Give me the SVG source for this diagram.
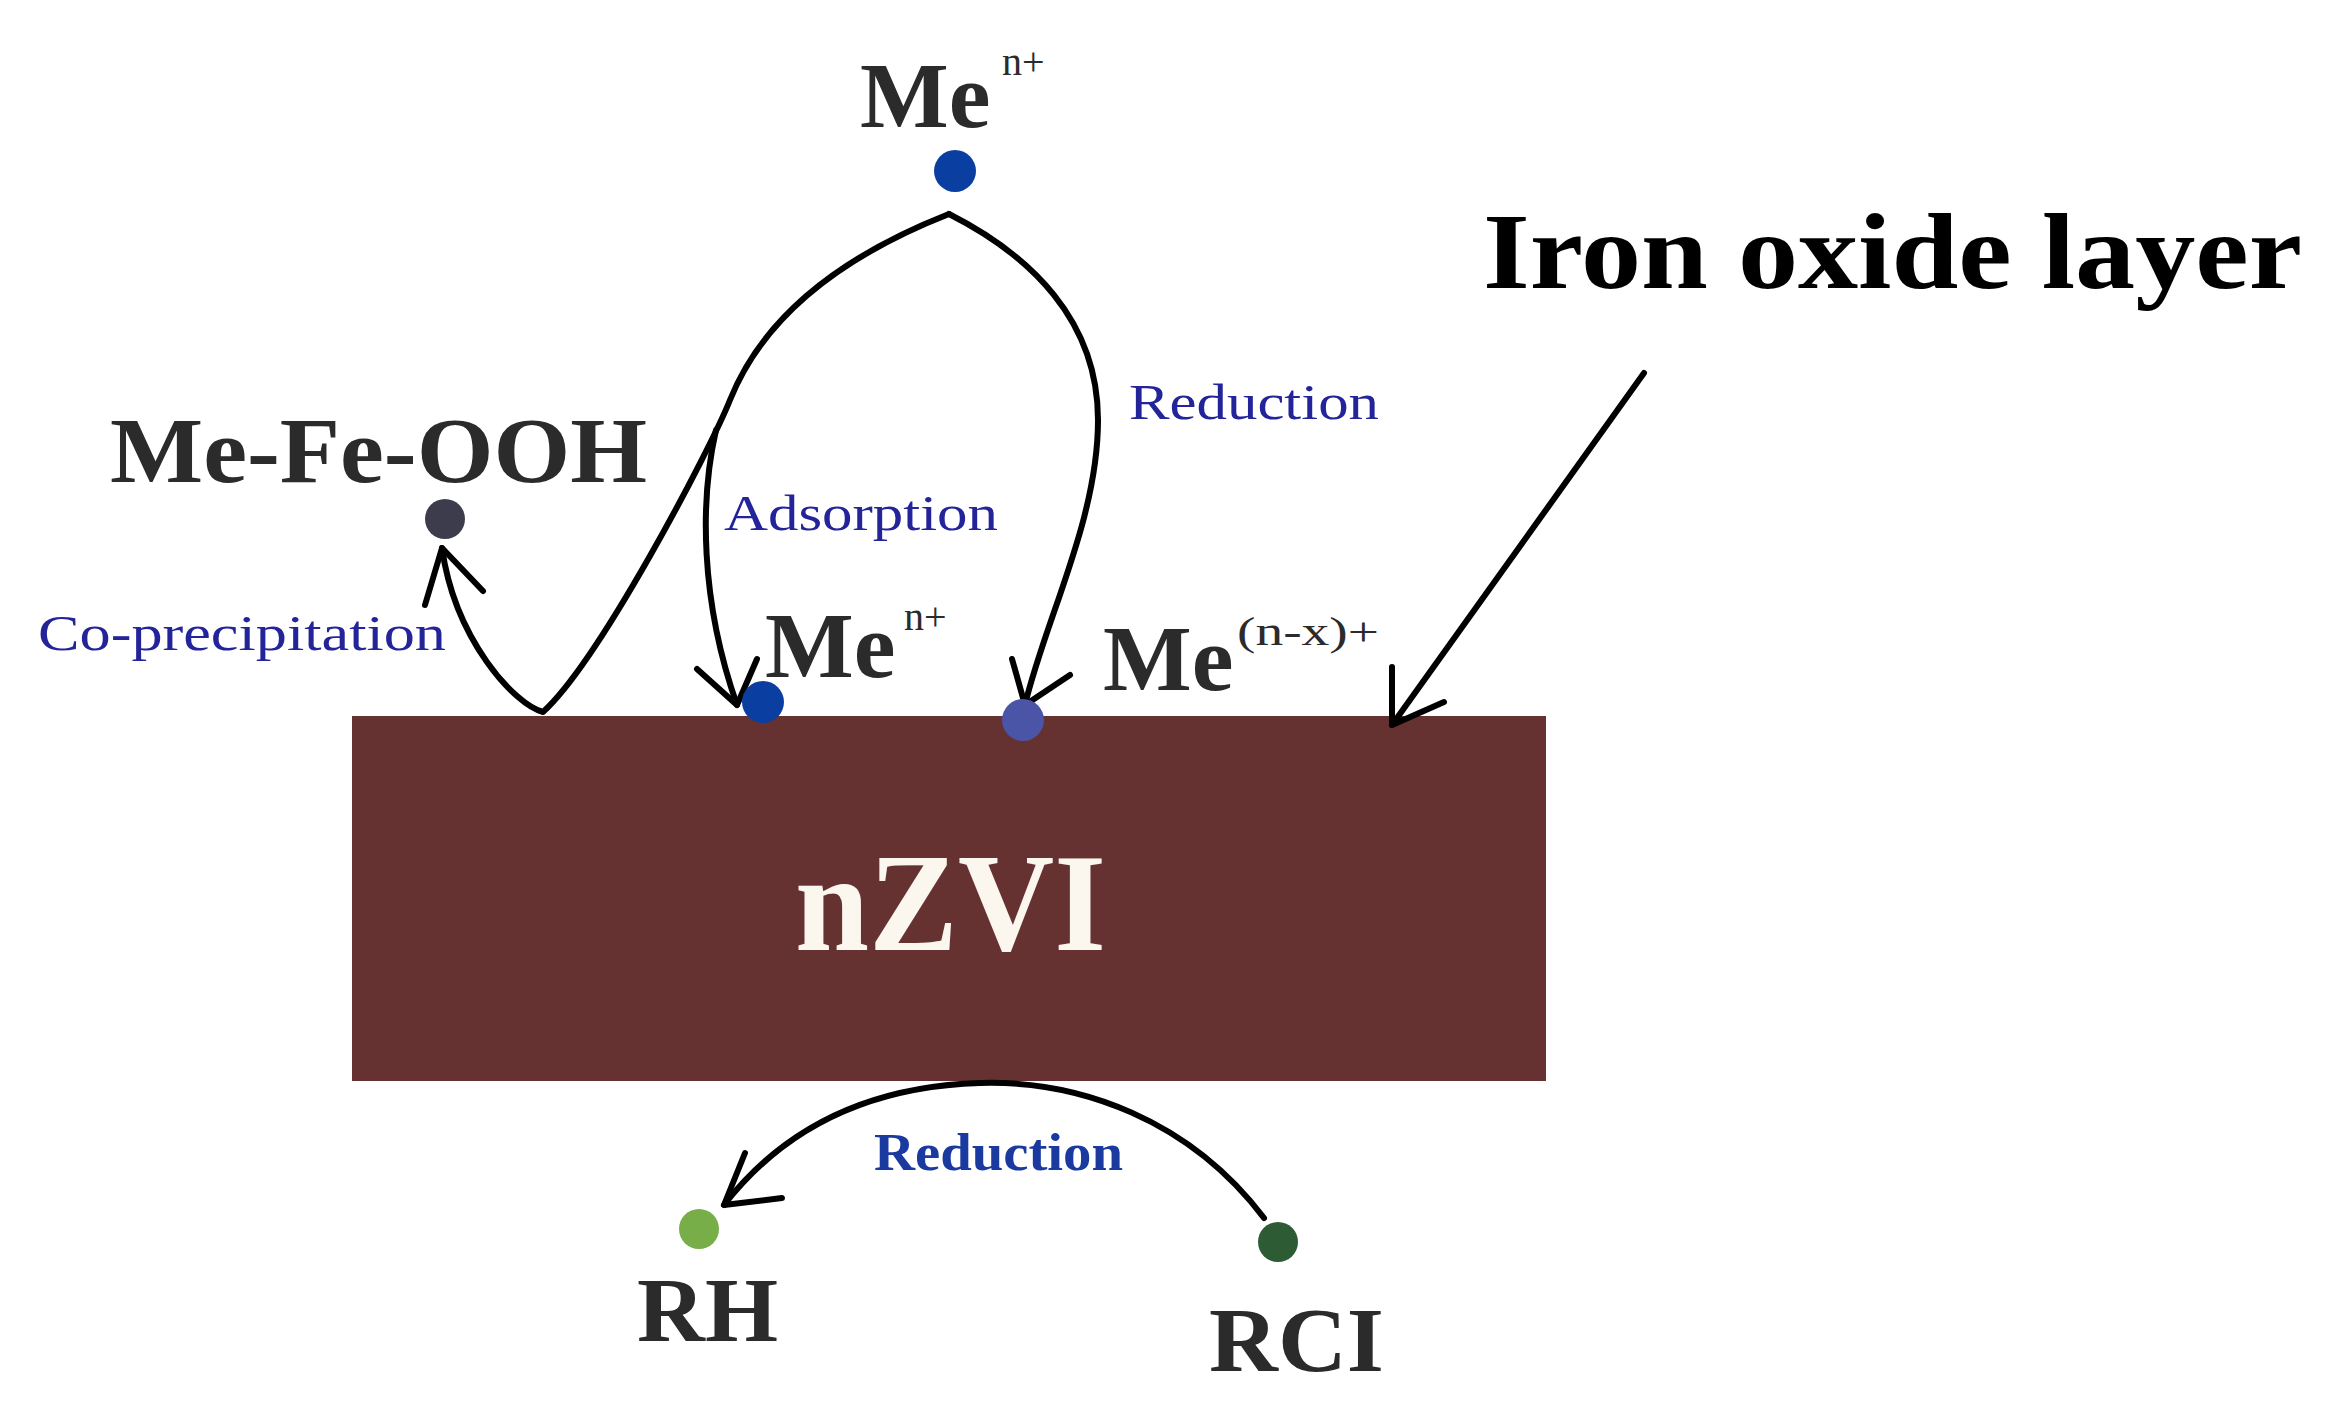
<svg xmlns="http://www.w3.org/2000/svg" width="2352" height="1405" viewBox="0 0 2352 1405">
<style>
.lbl{font-family:"Liberation Serif",serif;font-weight:bold;fill:#2b2b2b}
.sup{font-family:"Liberation Serif",serif;font-size:40px;fill:#2b2b2b}
.blue{font-family:"Liberation Serif",serif;font-size:50px;fill:#24249a}
.ln{fill:none;stroke:#000;stroke-width:6;stroke-linecap:round;stroke-linejoin:round}
</style>
<rect width="2352" height="1405" fill="#fff"/>
<g id="nzvi">
<rect x="352" y="716" width="1194" height="365" fill="#663231"/>
<text x="795" y="950" font-family="Liberation Serif,serif" font-weight="bold" font-size="140" fill="#fbf6ee" textLength="311" lengthAdjust="spacingAndGlyphs">nZVI</text>
</g>
<g id="connectors">
<path class="ln" d="M949,214 C870,245 770,300 730,400 C710,450 600,660 543,712 C515,705 455,640 442,548"/>
<path class="ln" d="M425,605 L442,548 L483,591"/>
<path class="ln" d="M716,430 C700,500 700,600 737,705"/>
<path class="ln" d="M697,669 L737,705 L757,659"/>
<path class="ln" d="M949,214 C1030,255 1098,320 1098,420 C1098,520 1045,620 1025,705"/>
<path class="ln" d="M1012,659 L1025,705 L1070,675"/>
<path class="ln" d="M1644,373 L1392,725"/>
<path class="ln" d="M1392,667 L1392,725 L1444,702"/>
<path class="ln" d="M1264,1218 C1190,1120 1080,1080 980,1083 C880,1086 790,1120 724,1205"/>
<path class="ln" d="M745,1153 L724,1205 L782,1198"/>
</g>
<g id="me-top">
<circle cx="955" cy="171" r="21" fill="#0b3ea1"/>
<text class="lbl" x="860" y="127" font-size="94">Me</text>
<text class="sup" x="1002" y="75">n+</text>
</g>
<g id="me-fe-ooh">
<circle cx="445" cy="519" r="20" fill="#3c3c4c"/>
<text class="lbl" x="110" y="482" font-size="93" textLength="537" lengthAdjust="spacingAndGlyphs">Me-Fe-OOH</text>
</g>
<g id="me-adsorbed">
<circle cx="763" cy="702" r="21" fill="#0b3ea1"/>
<text class="lbl" x="765" y="677" font-size="94">Me</text>
<text class="sup" x="904" y="630">n+</text>
</g>
<g id="me-reduced">
<circle cx="1023" cy="720" r="21" fill="#4a55a8"/>
<text class="lbl" x="1103" y="690" font-size="94">Me</text>
<text class="sup" x="1237" y="645" textLength="142" lengthAdjust="spacingAndGlyphs">(n-x)+</text>
</g>
<g id="labels">
<text class="blue" x="38" y="650" textLength="408" lengthAdjust="spacingAndGlyphs">Co-precipitation</text>
<text class="blue" x="724" y="530" textLength="274" lengthAdjust="spacingAndGlyphs">Adsorption</text>
<text class="blue" x="1129" y="419" textLength="250" lengthAdjust="spacingAndGlyphs">Reduction</text>
<text x="874" y="1170" font-family="Liberation Serif,serif" font-weight="bold" font-size="52" fill="#1b3aa0" textLength="249" lengthAdjust="spacingAndGlyphs">Reduction</text>
</g>
<g id="iron-oxide">
<text x="1483" y="288" font-family="Liberation Serif,serif" font-weight="bold" font-size="108" fill="#000" textLength="819" lengthAdjust="spacingAndGlyphs">Iron oxide layer</text>
</g>
<g id="rh">
<circle cx="699" cy="1229" r="20" fill="#78ae48"/>
<text class="lbl" x="637" y="1341" font-size="92" textLength="141" lengthAdjust="spacingAndGlyphs">RH</text>
</g>
<g id="rcl">
<circle cx="1278" cy="1242" r="20" fill="#2d5b34"/>
<text class="lbl" x="1209" y="1371" font-size="92" textLength="175" lengthAdjust="spacingAndGlyphs">RCI</text>
</g>
</svg>
